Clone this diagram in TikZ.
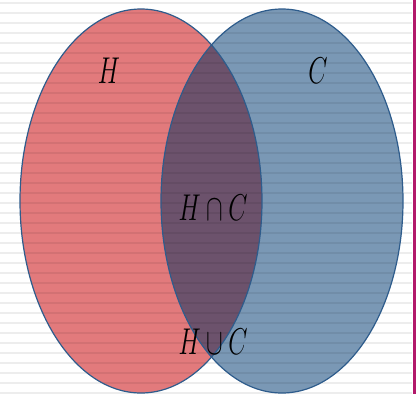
\documentclass[tikz,border=0pt]{standalone}
\usetikzlibrary{calc}
\definecolor{hred}{RGB}{226,122,124}
\definecolor{cblue}{RGB}{122,152,181}
\definecolor{hcmix}{RGB}{108,82,108}
\definecolor{edge}{RGB}{46,92,140}
\definecolor{magbar}{RGB}{178,24,106}
\tikzset{
  setshape/.style={draw=edge, line width=1.2pt},
  lbl/.style={inner sep=0pt, font=\fontsize{30}{30}\selectfont},
}
\newcommand{\tallmath}[1]{\scalebox{1}[1.5]{$#1$}}
\begin{document}
\begin{tikzpicture}[x=1pt,y=-1pt]
\useasboundingbox (0,0) rectangle (416,394);
\fill[white] (0,0) rectangle (416,394);
% filled sets
\fill[hred] (141,201) ellipse [x radius=121, y radius=192];
\fill[cblue] (282,201) ellipse [x radius=121, y radius=192];
\begin{scope}
  \clip (141,201) ellipse [x radius=121, y radius=192];
  \fill[hcmix] (282,201) ellipse [x radius=121, y radius=192];
\end{scope}
% horizontal stripes
\foreach \y in {3,13,...,393} {
  \fill[black, opacity=0.07] (0,\y-1) rectangle (412,\y+1);
}
% outlines
\draw[setshape] (141,201) ellipse [x radius=121, y radius=192];
\draw[setshape] (282,201) ellipse [x radius=121, y radius=192];
% right bar
\fill[magbar] (413,0) rectangle (416,394);
% labels
\node[lbl] (h) at (109,71) {\tallmath{H}};
\node[lbl] (c) at (318,71) {\tallmath{C}};
\node[lbl] (hc) at (213,208) {\tallmath{H\cap C}};
\node[lbl] (hu) at (213,342) {\tallmath{H\cup C}};
\end{tikzpicture}
\end{document}
